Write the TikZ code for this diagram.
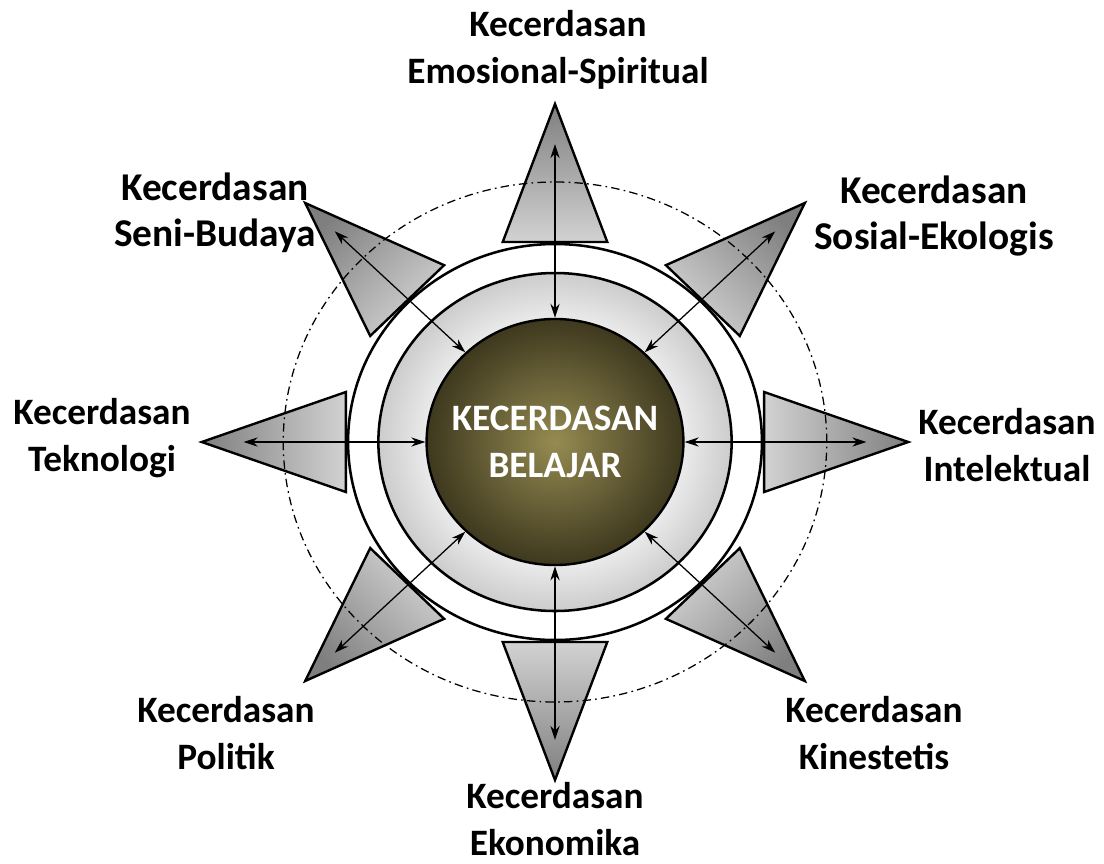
\documentclass[tikz,border=0pt]{standalone}
\usepackage{fontspec}
\setmainfont{Carlito}
\usepackage{tikz}
\usetikzlibrary{arrows.meta, shapes.geometric}
\definecolor{OliveLight}{HTML}{958B52}
\definecolor{OliveDark}{HTML}{3E381E}
\definecolor{SpikeDark}{HTML}{7F7F7F}
\definecolor{SpikeLight}{HTML}{D2D2D2}
\pgfdeclareradialshading{ringshade}{\pgfpointorigin}{color(0bp)=(black!4); color(17bp)=(black!6); color(25bp)=(black!20); color(50bp)=(black!20)}

\begin{document}
\begin{tikzpicture}[
  x=0.025cm, y=-0.025cm,
  font=\fontsize{26.5}{33}\selectfont\bfseries,
  lbl/.style={align=center, inner sep=0pt},
  biglbl/.style={lbl, font=\fontsize{28}{33}\selectfont\bfseries},
  core/.style={ellipse, draw, line width=1.7pt, minimum width=6.42cm, minimum height=6.15cm, inner xsep=-1.5cm, inner ysep=-0.6cm, inner color=OliveLight, outer color=OliveDark, text=white, align=center},
  ring/.style={draw, line width=1.8pt},
  spike/.style={draw, line width=1.7pt, line join=miter},
  arr/.style={{Stealth[length=10pt,width=6.5pt]}-{Stealth[length=10pt,width=6.5pt]}, line width=0.9pt},
  orbit/.style={line width=0.9pt, dash pattern=on 6pt off 3pt on 1.2pt off 3pt}
]
\useasboundingbox (0,0) rectangle (1104,863);
\begin{scope}[shift={(555,442)}, x=0.026125cm, y=0.025cm]
% eight spikes round the core
\foreach \a [evaluate=\a as \sa using \a-90] in {0,45,...,315}
  \draw[spike, top color=SpikeDark, bottom color=SpikeLight, shading angle=\sa]
    (\a:338) -- (\a+14.04:206.2) -- (\a-14.04:206.2) -- cycle;
\draw[orbit] (0,0) circle [radius=260];
\draw[ring, fill=white] (0,0) circle [radius=198];
\draw[ring, shade, shading=ringshade] (0,0) circle [radius=169];
\node[core] (belajar) at (0,0) {KECERDASAN\\BELAJAR};
\foreach \a in {0,45,...,315}{
  \coordinate (tip\a) at (\a:298);
  \draw[arr] (belajar.\a) -- (tip\a);
}
\end{scope}
% labels
\node[lbl] (emosi) at (558,50) {Kecerdasan\\Emosional-Spiritual};
\node[biglbl] (seni) at (215,213) {Kecerdasan\\Seni-Budaya};
\node[biglbl] (sosial) at (934,216) {Kecerdasan\\Sosial-Ekologis};
\node[lbl] (tekno) at (102,438) {Kecerdasan\\Teknologi};
\node[lbl] (intelek) at (1007,445) {Kecerdasan\\Intelektual};
\node[lbl] (politik) at (226,733) {Kecerdasan\\Politik};
\node[lbl] (kines) at (874,733) {Kecerdasan\\Kinestetis};
\node[lbl] (ekonomi) at (555,819) {Kecerdasan\\Ekonomika};
\end{tikzpicture}
\end{document}
